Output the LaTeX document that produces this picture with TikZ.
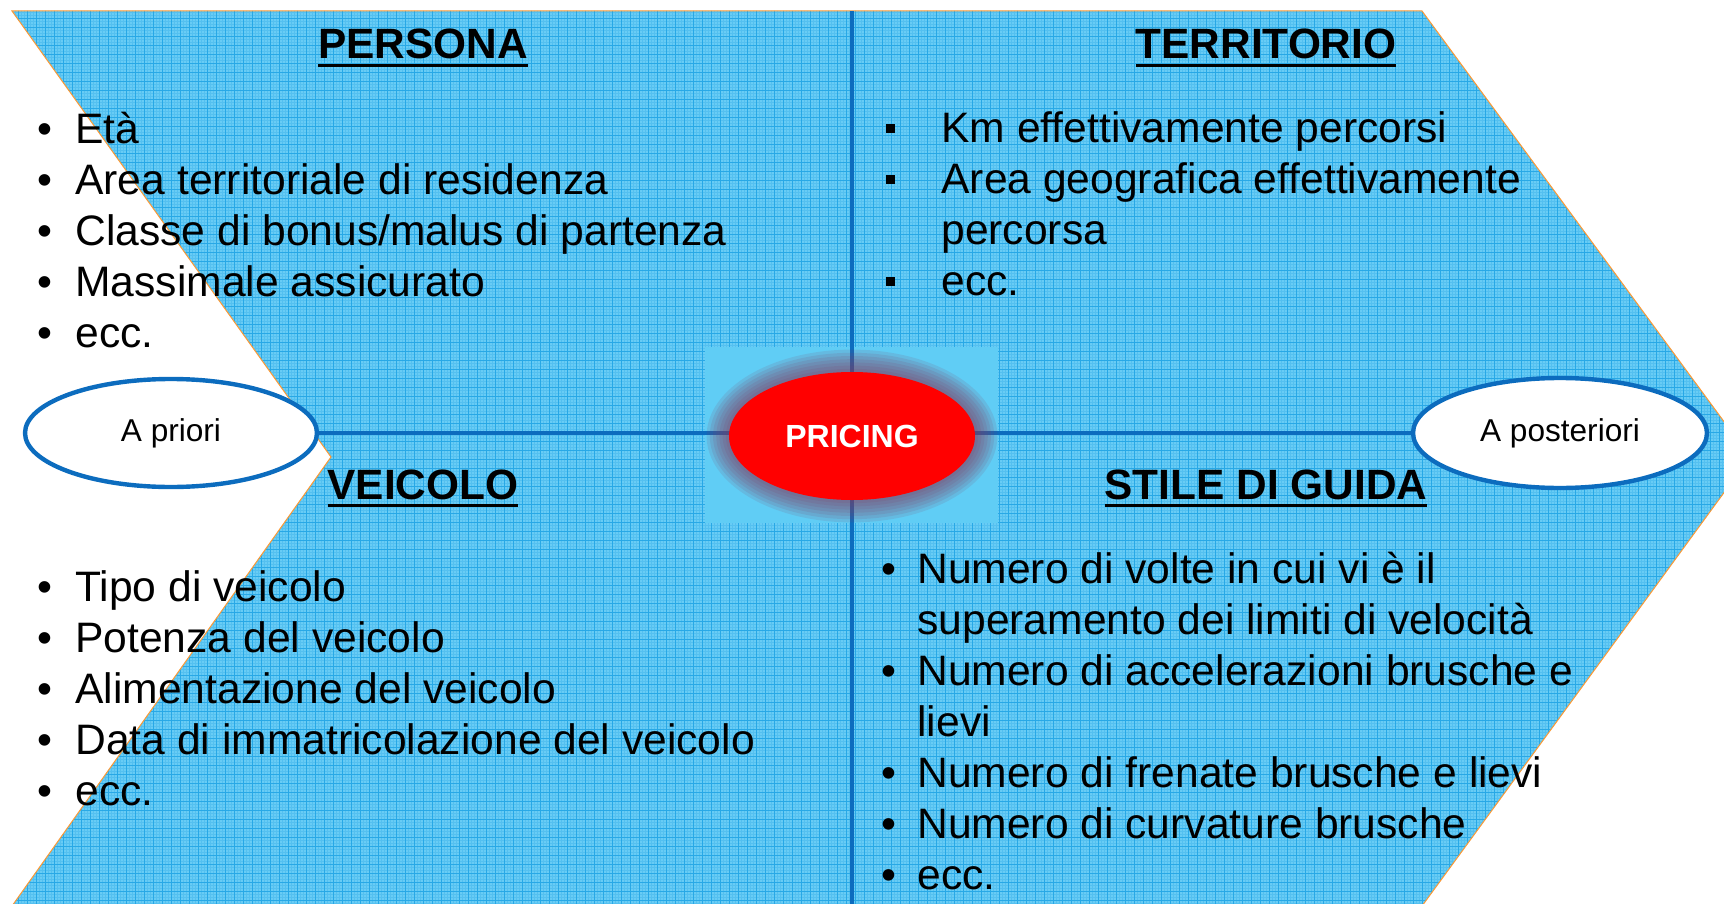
\documentclass[tikz,border=0pt]{standalone}
\usepackage{fontspec}
\setmainfont{Liberation Sans}
\usepackage{tikz}
\usetikzlibrary{shapes.geometric,backgrounds}
\definecolor{cielo}{RGB}{104,204,245}
\definecolor{retino}{RGB}{40,168,230}
\definecolor{riquadrocol}{RGB}{96,205,245}
\definecolor{bluscuro}{RGB}{12,108,190}
\definecolor{alone}{RGB}{130,60,95}
\newsavebox\testata
\newcommand{\sottolineato}[1]{\sbox\testata{#1}\rlap{\rule[-4pt]{\wd\testata}{1.5pt}}\usebox\testata}
\newcommand{\punto}{\makebox[19pt][l]{\textbullet}}
\newcommand{\quadretto}{\makebox[27.5pt][l]{\rule[5pt]{4.5pt}{4.5pt}}}
\newcommand{\sagoma}{(12,11) -- (1422,11) -- (1750,457) -- (1422,906) -- (12,906) -- (331,457) -- cycle}

\begin{document}
\begin{tikzpicture}[
    x=0.5pt, y=-0.5pt,
    lista/.style={anchor=base west, align=left, inner sep=0pt, font=\fontsize{21.3}{25.5}\selectfont},
    titolo/.style={anchor=base, inner sep=0pt, font=\fontsize{21.2}{25.5}\selectfont\bfseries},
    linea/.style={bluscuro, line width=2pt},
    fase/.style={ellipse, draw=bluscuro, line width=2.2pt, fill=white, inner sep=0pt, font=\fontsize{15.8}{18}\selectfont},
    nucleo/.style={ellipse, fill=red, text=white, inner sep=0pt, minimum width=123pt, minimum height=64pt, font=\fontsize{16}{19}\selectfont\bfseries},
    riquadro/.style={fill=riquadrocol, inner sep=0pt, minimum width=146.5pt, minimum height=88pt},
    griglia/.style={retino, line width=0.45pt},
    grigliafine/.style={retino!60!cielo, line width=0.25pt, opacity=0.5}
]
\useasboundingbox (0,0) rectangle (1724,904);

\coordinate (centro) at (852,436);
\coordinate (su) at (852,11);
\coordinate (giu) at (852,906);

\foreach \k in {1,...,7}
    \fill[alone, opacity=0.13] (centro) ellipse [x radius=61.5pt+\k*1.6pt, y radius=32pt+\k*1.6pt];
\node[nucleo] (pricing) at (centro) {PRICING};
\node[fase, minimum width=146pt, minimum height=54pt] (apriori) at (171,433) {A priori};
\node[fase, minimum width=147pt, minimum height=55pt] (aposteriori) at (1560,433) {A posteriori};

\node[titolo] (persona) at (423,59) {\sottolineato{PERSONA}};
\node[titolo] (territorio) at (1266,59) {\sottolineato{TERRITORIO}};
\node[titolo] (veicolo) at (423,499) {\sottolineato{VEICOLO}};
\node[titolo] (guida) at (1266,499) {\sottolineato{STILE DI GUIDA}};

\node[lista] (vocipersona) at (37,347) {\punto Età\\
    \punto Area territoriale di residenza\\
    \punto Classe di bonus/malus di partenza\\
    \punto Massimale assicurato\\
    \punto ecc.};
\node[lista] (vociterritorio) at (886,295.5) {\quadretto Km effettivamente percorsi\\
    \quadretto Area geografica effettivamente\\
    \makebox[27.5pt]{}percorsa\\
    \quadretto ecc.};
\node[lista] (vociveicolo) at (37,805) {\punto Tipo di veicolo\\
    \punto Potenza del veicolo\\
    \punto Alimentazione del veicolo\\
    \punto Data di immatricolazione del veicolo\\
    \punto ecc.};
\node[lista] (vociguida) at (881,889) {\makebox[18pt][l]{\textbullet}Numero di volte in cui vi è il\\
    \makebox[18pt]{}superamento dei limiti di velocità\\
    \makebox[18pt][l]{\textbullet}Numero di accelerazioni brusche e\\
    \makebox[18pt]{}lievi\\
    \makebox[18pt][l]{\textbullet}Numero di frenate brusche e lievi\\
    \makebox[18pt][l]{\textbullet}Numero di curvature brusche\\
    \makebox[18pt][l]{\textbullet}ecc.};

\begin{scope}[on background layer]
    \fill[cielo] \sagoma;
    \begin{scope}
        \clip \sagoma;
        \draw[grigliafine] (0,0) grid[step=1.5pt] (1760,910);
        \draw[griglia] (0,0) grid[step=4.5pt] (1760,910);
    \end{scope}
    \draw[orange!80, line width=0.5pt] \sagoma;
    \node[riquadro] (fondo) at (851.5,435) {};
    \draw[linea] (su) -- (giu);
    \draw[linea] (apriori.east) -- (aposteriori.west);
\end{scope}
\end{tikzpicture}
\end{document}
